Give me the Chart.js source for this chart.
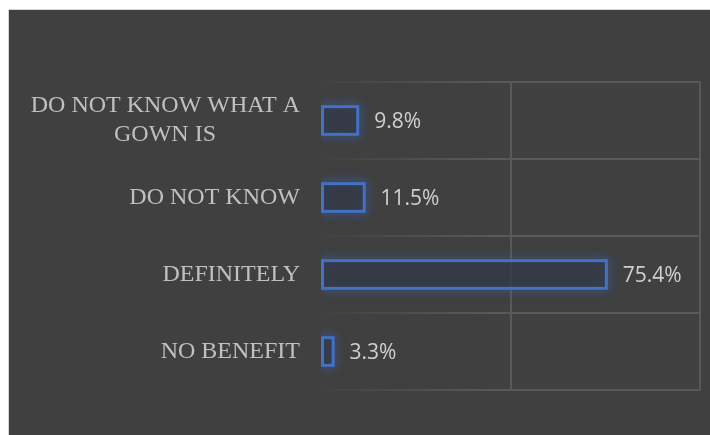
<!DOCTYPE html>
<html>
<head>
<meta charset="utf-8">
<script src="https://cdn.jsdelivr.net/npm/chart.js@4/dist/chart.umd.min.js"></script>
<style>
  body { margin: 0; background: #fff; }
  #frame { position: absolute; left: 8px; top: 9px; width: 701px; height: 425px;
           background: #404040; border-left: 1px solid #d4d4d4; border-top: 1px solid #d4d4d4; }
  #wrap { position: absolute; left: 0; top: 0; width: 710px; height: 435px; }
</style>
</head>
<body>
<div id="frame"></div>
<div id="wrap"><canvas id="barChart" width="710" height="435"></canvas></div>
<script>
// answers, top to bottom
var categories = [['DO NOT KNOW WHAT A', 'GOWN IS'], 'DO NOT KNOW', 'DEFINITELY', 'NO BENEFIT'];
var percents = [9.8, 11.5, 75.4, 3.3];
var xTicks = [0, 50, 100];

var labelFont = '24px "Liberation Serif"';
var measureCtx = document.createElement('canvas').getContext('2d');

// pad short lines so a wrapped label looks centred under the right-aligned text
function centreLines(label) {
    if (!Array.isArray(label)) return label;
    measureCtx.font = labelFont;
    var widths = label.map(function (l) { return measureCtx.measureText(l).width; });
    var maxW = Math.max.apply(null, widths);
    var sp = measureCtx.measureText(' ').width;
    return label.map(function (l, i) {
        var n = Math.round((maxW - widths[i]) / 2 / sp);
        return l + ' '.repeat(n);
    });
}

// horizontal grid lines fade out towards the labels
var gridFade = null;
function fadeColor(c) {
    if (!gridFade) {
        gridFade = c.chart.ctx.createLinearGradient(321, 0, 490, 0);
        gridFade.addColorStop(0, 'rgba(89,89,89,0.05)');
        gridFade.addColorStop(1, 'rgba(89,89,89,1)');
    }
    return gridFade;
}

var glow = {
    id: 'glow',
    beforeDatasetsDraw: function (chart) {
        var ctx = chart.ctx;
        var area = chart.chartArea;
        ctx.save();
        ctx.beginPath();
        ctx.rect(area.left, 0, chart.width - area.left, chart.height);
        ctx.clip();
        ctx.shadowColor = 'rgba(60,110,210,0.9)';
        ctx.shadowBlur = 11;
        ctx.strokeStyle = 'rgba(68,114,196,0.8)';
        ctx.lineWidth = 2;
        chart.getDatasetMeta(0).data.forEach(function (bar) {
            var p = bar.getProps(['x', 'y', 'base', 'height'], true);
            ctx.strokeRect(p.base, p.y - p.height / 2, p.x - p.base, p.height);
            ctx.strokeRect(p.base, p.y - p.height / 2, p.x - p.base, p.height);
        });
        ctx.restore();
    },
    afterDatasetsDraw: function (chart) {
        var ctx = chart.ctx;
        ctx.save();
        ctx.fillStyle = '#d0d0d0';
        ctx.font = '21px "Open Sans"';
        ctx.textBaseline = 'middle';
        chart.getDatasetMeta(0).data.forEach(function (bar, i) {
            ctx.fillText(percents[i].toFixed(1) + '%', bar.x + 16, bar.y + 2);
        });
        ctx.restore();
    }
};

function $id(id) { return document.getElementById(id); }
var barChartCanvas = $id('barChart').getContext('2d');

var barChart = new Chart(barChartCanvas, {
    type: 'bar',
    data: {
        labels: categories,
        datasets: [{
            data: percents,
            backgroundColor: 'rgba(50,56,70,0.75)',
            borderColor: '#4472C4',
            borderWidth: 2,
            borderSkipped: false,
            barPercentage: 0.37,
            categoryPercentage: 1
        }]
    },
    options: {
        indexAxis: 'y',
        responsive: false,
        animation: false,
        layout: { padding: { left: 0, right: 10, top: 82, bottom: 45 } },
        plugins: { legend: { display: false }, tooltip: { enabled: false } },
        scales: {
            x: {
                min: xTicks[0],
                max: xTicks[xTicks.length - 1],
                afterBuildTicks: function (scale) {
                    scale.ticks = xTicks.map(function (v) { return { value: v }; });
                },
                ticks: { display: false },
                border: { display: false },
                grid: {
                    drawTicks: false,
                    lineWidth: 2,
                    color: function (c) { return c.tick && c.tick.value === 0 ? 'rgba(0,0,0,0)' : '#595959'; }
                }
            },
            y: {
                afterFit: function (scale) {
                    scale.width = 321;
                    scale.paddingTop = 0;
                    scale.paddingBottom = 0;
                },
                border: { display: false },
                grid: {
                    offset: true,
                    drawTicks: false,
                    lineWidth: 2,
                    color: fadeColor
                },
                ticks: {
                    padding: 21,
                    color: '#c0c0c0',
                    font: { family: 'Liberation Serif', size: 24, lineHeight: 1.2 },
                    callback: function (v, i) { return centreLines(categories[i]); }
                }
            }
        }
    },
    plugins: [glow]
});
</script>
</body>
</html>
